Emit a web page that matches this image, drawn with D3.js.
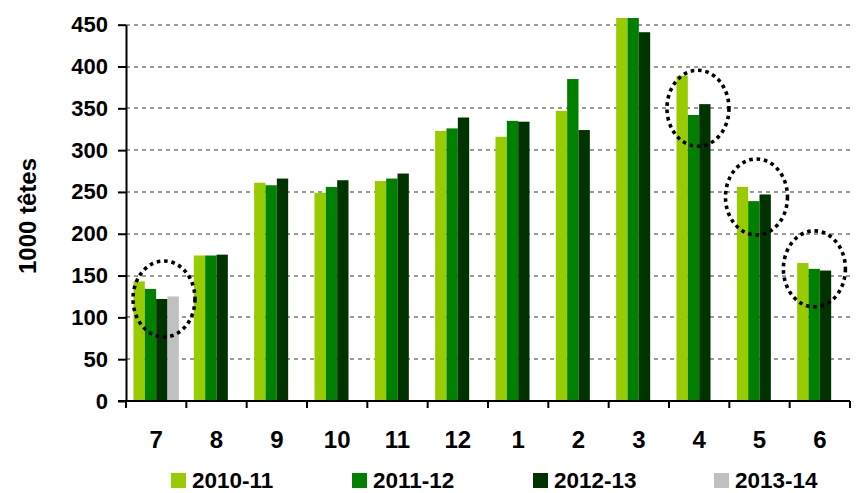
<!DOCTYPE html>
<meta charset="utf-8">
<script src="https://d3js.org/d3.v7.min.js"></script>
<style>
    body { margin: 0; background: #fff; }
    text { font-family: Arial, "Liberation Sans", sans-serif; font-weight: bold; fill: #000; }
</style>
<div id="chart"></div>
<script>
    var width = 856
    var height = 493

    // months of the campaign (July -> June)
    var months = ["7", "8", "9", "10", "11", "12", "1", "2", "3", "4", "5", "6"]
    var seasons = ["2010-11", "2011-12", "2012-13", "2013-14"]

    var s2010 = [143, 174, 261, 249, 263, 323, 316, 347, 470, 389, 256, 165]
    var s2011 = [134, 174, 258, 256, 266, 326, 335, 385, 470, 342, 239, 158]
    var s2012 = [122, 175, 266, 264, 272, 339, 334, 324, 441, 355, 247, 156]
    var s2013 = [125, null, null, null, null, null, null, null, null, null, null, null]

    var yTicks = [0, 50, 100, 150, 200, 250, 300, 350, 400, 450]

    // dotted rings drawn round some months
    var ringMonths = ["7", "4", "5", "6"]
    var ringValues = [122, 350, 244, 158]

    var colors = ["#99cc00", "#008000", "#003300", "#c0c0c0"]

    var series = [s2010, s2011, s2012, s2013]

    var pLeft = 126, pRight = 850, pBottom = 401, pTop = 18

    var svg = d3.select("#chart")
        .append("svg")
        .attr("width", width)
        .attr("height", height)

    var x0 = d3.scaleBand()
        .domain(months)
        .range([pLeft, pRight])
        .padding(0)

    var x1 = d3.scaleBand()
        .domain(seasons)
        .range([0, x0.bandwidth()])
        .paddingInner(0)
        .paddingOuter(0.66)

    var y = d3.scaleLinear()
        .domain([0, 458])
        .range([pBottom, pTop])

    // grid
    svg.append("g")
        .selectAll("line")
        .data(yTicks.filter(function (d) { return d > 0 }))
        .enter()
        .append("line")
        .attr("x1", pLeft)
        .attr("x2", pRight)
        .attr("y1", function (d) { return Math.round(y(d)) })
        .attr("y2", function (d) { return Math.round(y(d)) })
        .attr("stroke", "#999")
        .attr("stroke-width", 2)
        .attr("stroke-dasharray", "4,4")

    // bars
    var flat = []
    series.forEach(function (vals, si) {
        vals.forEach(function (v, mi) {
            if (v != null) flat.push({ month: months[mi], season: seasons[si], value: v, si: si })
        })
    })

    svg.append("g")
        .selectAll("rect")
        .data(flat)
        .enter()
        .append("rect")
        .attr("x", function (d) { return x0(d.month) + x1(d.season) })
        .attr("width", x1.bandwidth())
        .attr("y", function (d) { return y(Math.min(d.value, 458)) })
        .attr("height", function (d) { return pBottom - y(Math.min(d.value, 458)) })
        .attr("fill", function (d) { return colors[d.si] })

    // y axis
    var yAxisScale = d3.scaleLinear().domain([0, 450]).range([y(0), y(450)])
    var yAxis = svg.append("g")
        .attr("transform", "translate(" + pLeft + ",0)")
        .call(d3.axisLeft(yAxisScale).tickValues(yTicks).tickSize(8).tickSizeOuter(0).tickPadding(10))
    yAxis.select(".domain").attr("stroke", "#000").attr("stroke-width", 2)
    yAxis.selectAll(".tick line").attr("stroke", "#000").attr("stroke-width", 2)
    yAxis.selectAll(".tick text")
        .style("font-size", "22px")
        .style("font-family", "Arial, 'Liberation Sans', sans-serif")
        .style("font-weight", "bold")

    // x axis
    var xg = svg.append("g")
    xg.append("line")
        .attr("x1", pLeft - 8)
        .attr("x2", pRight)
        .attr("y1", pBottom)
        .attr("y2", pBottom)
        .attr("stroke", "#000")
        .attr("stroke-width", 2)
    var bounds = months.map(function (m) { return x0(m) }).concat([pRight])
    xg.selectAll(".xt")
        .data(bounds)
        .enter()
        .append("line")
        .attr("x1", function (d) { return d })
        .attr("x2", function (d) { return d })
        .attr("y1", pBottom)
        .attr("y2", pBottom + 7)
        .attr("stroke", "#000")
        .attr("stroke-width", 2)
    xg.selectAll(".xl")
        .data(months)
        .enter()
        .append("text")
        .attr("x", function (d) { return x0(d) + x0.bandwidth() / 2 })
        .attr("y", 448)
        .attr("text-anchor", "middle")
        .style("font-size", "24px")
        .text(function (d) { return d })

    // axis title
    svg.append("text")
        .attr("transform", "translate(36,216) rotate(-90)")
        .attr("text-anchor", "middle")
        .style("font-size", "24px")
        .text("1000 têtes")

    // rings
    var ringShift = [0.63, 0.48, 0.45, 0.41]
    svg.append("g")
        .selectAll("ellipse")
        .data(ringMonths)
        .enter()
        .append("ellipse")
        .attr("cx", function (d, i) { return x0(d) + x0.bandwidth() * ringShift[i] })
        .attr("cy", function (d, i) { return y(ringValues[i]) })
        .attr("rx", 31)
        .attr("ry", 38)
        .attr("fill", "none")
        .attr("stroke", "#000")
        .attr("stroke-width", 3.6)
        .attr("stroke-dasharray", "3.6,3.8")

    // legend
    var legend = svg.append("g")
        .selectAll("g")
        .data(seasons)
        .enter()
        .append("g")
        .attr("transform", function (d, i) { return "translate(" + (171 + i * 181) + ",473)" })
    legend.append("rect")
        .attr("width", 15)
        .attr("height", 15)
        .attr("fill", function (d, i) { return colors[i] })
    legend.append("text")
        .attr("x", 21)
        .attr("y", 15)
        .style("font-size", "22.5px")
        .text(function (d) { return d })
</script>
